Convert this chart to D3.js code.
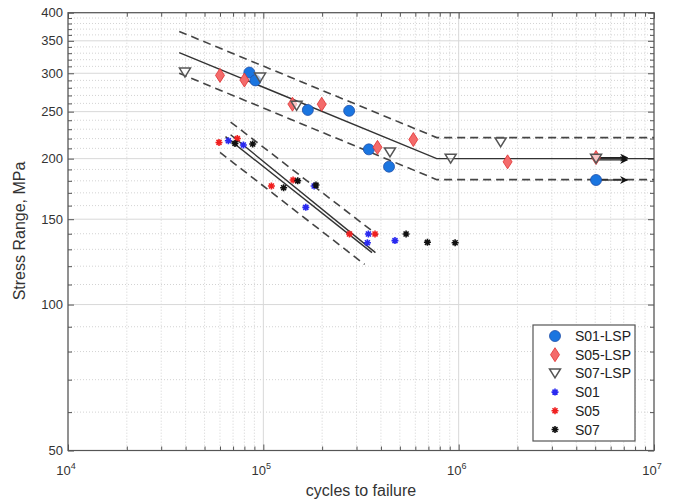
<!DOCTYPE html>
<html><head><meta charset="utf-8">
<script src="https://cdn.jsdelivr.net/npm/d3@7"></script>
<style>
html,body{margin:0;padding:0;background:#fff;}
svg{display:block;font-family:"Liberation Sans",Arial,sans-serif;}
</style></head>
<body>
<svg id="c" width="677" height="502"></svg>
<script>
// ---------- data ----------
const xTickExps = [4, 5, 6, 7];
const yTickLabels = [50, 100, 150, 200, 250, 300, 350, 400];
const S01_LSP = [[8.48e4,301],[9.1e4,290],[1.69e5,252],[2.75e5,251],[3.47e5,209],[4.40e5,192.5],[5.05e6,180.7]];
const S05_LSP = [[6.0e4,297],[8.0e4,290.5],[1.41e5,259],[1.99e5,259],[3.84e5,211],[5.86e5,219],[1.78e6,197],[5.05e6,201]];
const S07_LSP = [[3.97e4,301],[9.62e4,294],[1.48e5,257],[4.45e5,206],[9.1e5,200],[1.64e6,216],[5.05e6,200]];
const S01 = [[6.62e4,217.7],[7.90e4,213.4],[1.82e5,175.6],[1.65e5,158.7],[3.45e5,139.8],[3.41e5,134.1],[4.72e5,135.5]];
const S05 = [[5.93e4,216],[7.36e4,220],[1.10e5,175.6],[1.42e5,180.7],[2.76e5,139.8],[3.73e5,139.8]];
const S07 = [[7.16e4,215],[8.82e4,214.4],[1.27e5,174.2],[1.50e5,180],[1.86e5,176.4],[5.38e5,139.8],[6.92e5,134.4],[9.59e5,134.1]];
// design curves (S-N lines)
const lspMean  = [[3.71e4,331],[7.72e5,200],[1e7,200]];
const lspUpper = [[3.71e4,366],[7.72e5,221],[1e7,221]];
const lspLower = [[3.71e4,300],[7.72e5,181],[1e7,181]];
const baseMeanA  = [[6.8e4,224],[3.75e5,128]];
const baseMeanB  = [[6.4e4,222],[3.6e5,128]];
const baseUpper  = [[6.8e4,238],[3.85e5,139]];
const baseLower  = [[6.0e4,206],[3.3e5,121]];
// run-outs (arrows)
const runouts = [[5.05e6,7.3e6,201],[5.05e6,7.3e6,198.8],[5.05e6,7.3e6,180.7]];
const legendNames = ["S01-LSP","S05-LSP","S07-LSP","S01","S05","S07"];

// ---------- setup ----------
const svg = d3.select("#c");
const L = 68, R = 654, T = 12.7, B = 450.5;
const x = d3.scaleLog().domain([1e4,1e7]).range([L,R]);
const y = d3.scaleLog().domain([50,400]).range([B,T]);

const xMajor = xTickExps.map(e=>Math.pow(10,e));
const xMinor = [];
for (let e = 4; e < 7; e++) for (let k = 2; k <= 9; k++) xMinor.push(k*Math.pow(10,e));
const yMinor = [];
for (let v = 60; v < 400; v += 10) if (!yTickLabels.includes(v)) yMinor.push(v);

const grid = svg.append("g");
grid.selectAll(".xm").data(xMinor).join("line")
  .attr("x1",d=>x(d)).attr("x2",d=>x(d)).attr("y1",T).attr("y2",B)
  .attr("stroke","#c8c8c8").attr("stroke-width",0.8).attr("stroke-dasharray","1,2");
grid.selectAll(".ym").data(yMinor).join("line")
  .attr("y1",d=>y(d)).attr("y2",d=>y(d)).attr("x1",L).attr("x2",R)
  .attr("stroke","#c8c8c8").attr("stroke-width",0.8).attr("stroke-dasharray","1,2");
grid.selectAll(".xM").data(xMajor).join("line")
  .attr("x1",d=>x(d)).attr("x2",d=>x(d)).attr("y1",T).attr("y2",B)
  .attr("stroke","#d8d8d8").attr("stroke-width",1);
grid.selectAll(".yM").data(yTickLabels).join("line")
  .attr("y1",d=>y(d)).attr("y2",d=>y(d)).attr("x1",L).attr("x2",R)
  .attr("stroke","#d8d8d8").attr("stroke-width",1);

// axes via d3 axis (inward ticks)
const fmtX = () => "";
const axB = svg.append("g").attr("transform",`translate(0,${B})`)
  .call(d3.axisBottom(x).tickValues(xMajor.concat(xMinor)).tickSize(-4).tickFormat(fmtX));
const axT = svg.append("g").attr("transform",`translate(0,${T})`)
  .call(d3.axisTop(x).tickValues(xMajor.concat(xMinor)).tickSize(-4).tickFormat(fmtX));
const axL = svg.append("g").attr("transform",`translate(${L},0)`)
  .call(d3.axisLeft(y).tickValues(yTickLabels.concat(yMinor)).tickSize(-4).tickFormat(d=>yTickLabels.includes(d)?d:""));
const axR = svg.append("g").attr("transform",`translate(${R},0)`)
  .call(d3.axisRight(y).tickValues(yTickLabels.concat(yMinor)).tickSize(-4).tickFormat(()=>""));
[axB,axT,axL,axR].forEach(a=>{
  a.select(".domain").remove();
  a.selectAll(".tick line").attr("stroke","#555").attr("stroke-width",1);
});
axB.selectAll(".tick").filter(d=>xMajor.includes(d)).select("line").attr("y2",-6);
axT.selectAll(".tick").filter(d=>xMajor.includes(d)).select("line").attr("y2",6);
axL.selectAll(".tick").filter(d=>yTickLabels.includes(d)).select("line").attr("x2",6);
axR.selectAll(".tick").filter(d=>yTickLabels.includes(d)).select("line").attr("x2",-6);
axL.selectAll(".tick text").attr("font-size",13).attr("fill","#333").attr("x",-5)
  .attr("font-family","Liberation Sans, Arial, sans-serif");

// x labels with superscripts
const xl = svg.append("g").selectAll("text").data(xTickExps).join("text")
  .attr("x",d=>x(Math.pow(10,d))-2).attr("y",475).attr("text-anchor","middle")
  .attr("font-size",13).attr("fill","#333");
xl.append("tspan").text("10");
xl.append("tspan").text(d=>d).attr("font-size",9).attr("dy",-6);

// box
svg.append("rect").attr("x",L).attr("y",T).attr("width",R-L).attr("height",B-T)
  .attr("fill","none").attr("stroke","#555").attr("stroke-width",1.2);

// axis titles
svg.append("text").attr("x",361).attr("y",496).attr("text-anchor","middle")
  .attr("font-size",16).attr("fill","#333").text("cycles to failure");
svg.append("text").attr("transform","translate(25,231) rotate(-90)").attr("text-anchor","middle")
  .attr("font-size",16).attr("fill","#333").text("Stress Range, MPa");

// lines
const line = d3.line().x(d=>x(d[0])).y(d=>y(d[1]));
const lg = svg.append("g");
[[lspMean,null],[lspUpper,"8,5"],[lspLower,"8,5"],[baseMeanA,null],[baseMeanB,null],[baseUpper,"8,5"],[baseLower,"8,5"]]
 .forEach(([d,dash])=>{
  lg.append("path").attr("d",line(d)).attr("fill","none")
    .attr("stroke", dash? "#444":"#333").attr("stroke-width",dash?1.6:1.4)
    .attr("stroke-dasharray",dash);
 });

// arrows
svg.append("defs").append("marker").attr("id","ah").attr("viewBox","0 0 10 10")
  .attr("refX",9).attr("refY",5).attr("markerWidth",10).attr("markerHeight",8)
  .attr("markerUnits","userSpaceOnUse").attr("orient","auto")
  .append("path").attr("d","M0,0 L10,5 L0,10 L3,5 Z").attr("fill","#111");
svg.append("g").selectAll("line").data(runouts).join("line")
  .attr("x1",d=>x(d[0])).attr("x2",d=>x(d[1])).attr("y1",d=>y(d[2])).attr("y2",d=>y(d[2]))
  .attr("stroke","#222").attr("stroke-width",1.2).attr("marker-end","url(#ah)");

// marker drawers
function circle(g){ g.append("circle").attr("r",5.5).attr("fill","#1a75e0").attr("stroke","#1f4fa8").attr("stroke-width",0.8); }
function diamond(g){ g.append("path").attr("d","M0,-7 L4.5,0 L0,7 L-4.5,0 Z").attr("fill","#f46b6b").attr("stroke","#e03030").attr("stroke-width",0.8); }
function tri(g){ g.append("path").attr("d","M-5.5,-4.5 L5.5,-4.5 L0,4.5 Z").attr("fill","#fff").attr("fill-opacity",0.6).attr("stroke","#555").attr("stroke-width",1.5); }
function star(col){ return g=>{
  g.append("path").attr("d","M-3.5,0 L3.5,0 M0,-3.5 L0,3.5 M-2.5,-2.5 L2.5,2.5 M-2.5,2.5 L2.5,-2.5")
   .attr("stroke",col).attr("stroke-width",1.6);
  g.append("circle").attr("r",1.6).attr("fill",col);
}; }
const groups = [[S01_LSP,circle],[S05_LSP,diamond],[S07_LSP,tri],[S01,star("#2a2af0")],[S05,star("#f02020")],[S07,star("#111")]];
const drawOrder = [3,4,5,0,1,2];
drawOrder.forEach(i=>{
  const [data,fn] = groups[i];
  svg.append("g").selectAll("g").data(data).join("g")
    .attr("transform",d=>`translate(${x(d[0])},${y(d[1])})`).each(function(){ fn(d3.select(this)); });
});

// legend
const leg = svg.append("g");
leg.append("rect").attr("x",533).attr("y",325).attr("width",102).attr("height",116)
  .attr("fill","#fff").attr("stroke","#555").attr("stroke-width",1.2);
const ly = d3.scalePoint().domain(legendNames).range([336,429.5]);
legendNames.forEach((n,i)=>{
  const g = leg.append("g").attr("transform",`translate(555,${ly(n)})`);
  groups[i][1](g);
  leg.append("text").attr("x",575).attr("y",ly(n)+5).attr("font-size",14).attr("fill","#222").text(n);
});
</script>
</body></html>
